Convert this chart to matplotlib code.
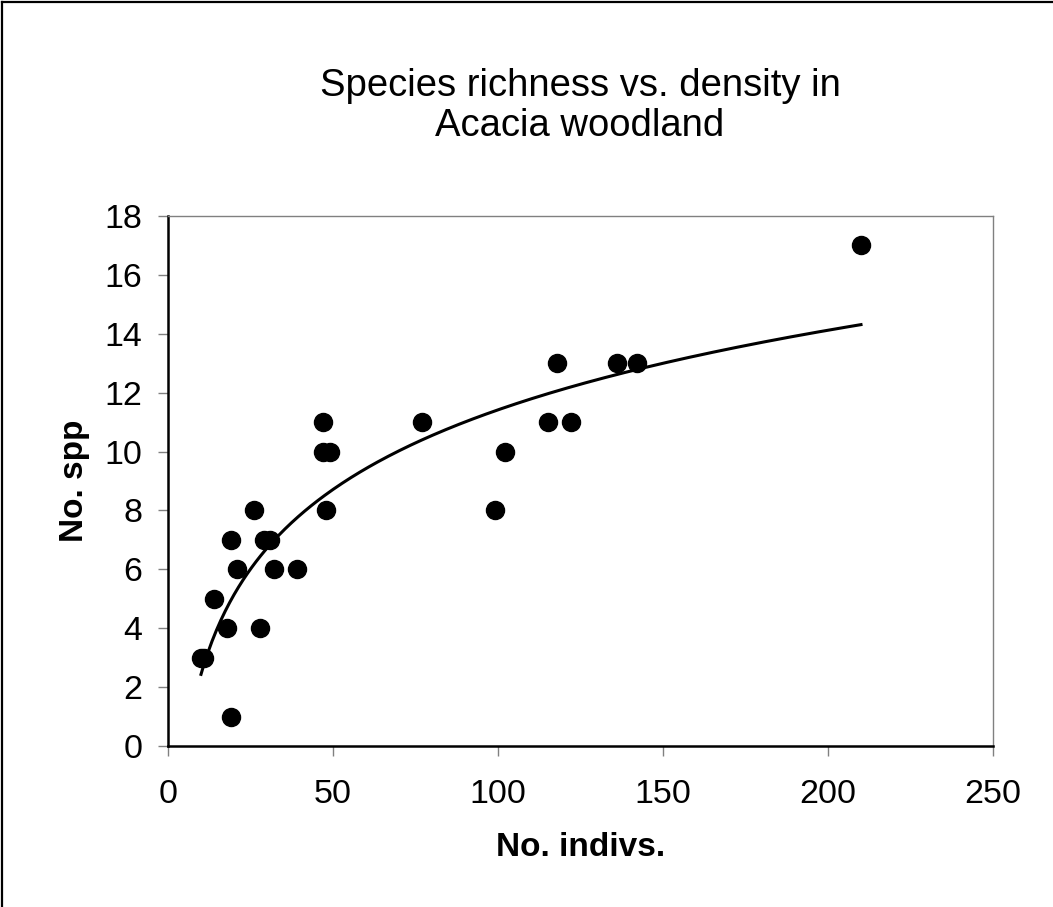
import numpy as np
import matplotlib.pyplot as plt
from matplotlib.lines import Line2D

plt.rcParams['font.family'] = ['Liberation Sans', 'DejaVu Sans']

# data
indivs = [10, 11, 14, 18, 19, 19, 21, 26, 28, 29, 31, 32, 39,
          47, 47, 49, 48, 77, 99, 102, 115, 118, 122, 136, 142, 210]
spp = [3, 3, 5, 4, 7, 1, 6, 8, 4, 7, 7, 6, 6,
       11, 10, 10, 8, 11, 8, 10, 11, 13, 11, 13, 13, 17]

x = np.array(indivs, dtype=float)
y = np.array(spp, dtype=float)

# logarithmic trendline (Excel style)
b, a = np.polyfit(np.log(x), y, 1)
xs = np.linspace(x.min(), x.max(), 300)
ys = a + b * np.log(xs)

fig = plt.figure(figsize=(10.53, 9.07), dpi=100)
ax = fig.add_axes([168/1053, 1-746/907, 825/1053, 530/907])

ax.plot(xs, ys, color='black', lw=2.2, zorder=2)
ax.plot(x, y, 'o', color='black', ms=13, zorder=3)

ax.set_xlim(0, 250)
ax.set_ylim(0, 18)
ax.set_xticks(range(0, 251, 50))
ax.set_yticks(range(0, 19, 2))

for s in ['left', 'bottom']:
    ax.spines[s].set_color('black')
    ax.spines[s].set_linewidth(1.8)
for s in ['top', 'right']:
    ax.spines[s].set_color('#808080')
    ax.spines[s].set_linewidth(1.0)

ax.tick_params(axis='both', direction='out', length=7.5, width=1.0,
               color='#808080', labelsize=24.5)
ax.tick_params(axis='x', pad=16)
ax.tick_params(axis='y', pad=11)

ax.set_xlabel('No. indivs.', fontsize=24, fontweight='bold')
ax.set_ylabel('No. spp', fontsize=24, fontweight='bold')
ax.xaxis.set_label_coords(0.5, -0.163)
ax.yaxis.set_label_coords(-0.095, 0.5)

fig.text(580/1053, 1-106/907, 'Species richness vs. density in\nAcacia woodland',
         ha='center', va='center', fontsize=27.5, linespacing=1.15)

# outer frame (top and left edges)
fig.add_artist(Line2D([2/1053, 2/1053], [0, 1-2/907], transform=fig.transFigure,
                      color='black', lw=1.6))
fig.add_artist(Line2D([2/1053, 1], [1-2/907, 1-2/907], transform=fig.transFigure,
                      color='black', lw=1.6))

fig.savefig('out.png', dpi=100)
